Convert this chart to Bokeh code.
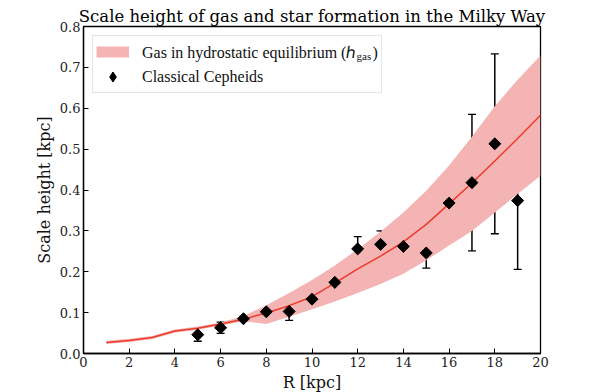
import numpy as np
from bokeh.plotting import figure
from bokeh.models import (ColumnDataSource, Whisker, TeeHead, Legend, LegendItem,
                          Label, Range1d, FixedTicker, PrintfTickFormatter)
from bokeh.embed import file_html
from bokeh.resources import INLINE

# ---- data ----
R_gas = [1, 2, 3, 4, 5, 6, 7, 8, 9, 10, 11, 12, 13, 14, 15, 16, 17, 18, 19, 20]
h_gas_mid = [0.027, 0.032, 0.039, 0.055, 0.062, 0.072, 0.084, 0.099, 0.117, 0.139,
             0.172, 0.207, 0.238, 0.273, 0.316, 0.366, 0.417, 0.471, 0.526, 0.583]
h_gas_lo = [0.023, 0.028, 0.035, 0.051, 0.058, 0.068, 0.079, 0.072, 0.090, 0.108,
            0.127, 0.148, 0.170, 0.195, 0.228, 0.264, 0.300, 0.345, 0.390, 0.435]
h_gas_hi = [0.031, 0.036, 0.043, 0.059, 0.066, 0.076, 0.092, 0.118, 0.148, 0.180,
            0.215, 0.255, 0.298, 0.345, 0.398, 0.460, 0.530, 0.605, 0.670, 0.729]

R_ceph = [5, 6, 7, 8, 9, 10, 11, 12, 13, 14, 15, 16, 17, 18, 19]
h_ceph = [0.046, 0.063, 0.085, 0.102, 0.103, 0.133, 0.174, 0.256, 0.267, 0.262,
          0.246, 0.368, 0.418, 0.513, 0.374]
h_ceph_err = [0.016, 0.014, 0.006, 0.005, 0.022, 0.018, 0.033, 0.030, 0.033, 0.029,
              0.037, 0.065, 0.167, 0.220, 0.168]

x_ticks = [0, 2, 4, 6, 8, 10, 12, 14, 16, 18, 20]
y_ticks = [0.0, 0.1, 0.2, 0.3, 0.4, 0.5, 0.6, 0.7, 0.8]

title_text = "Scale height of gas and star formation in the Milky Way"
x_label = "R [kpc]"
y_label = "Scale height [kpc]"
gas_label = "Gas in hydrostatic equilibrium (\u210e    )"
gas_sub = "gas"
ceph_label = "Classical Cepheids"

FONT = "DejaVu Serif"
LEG_FONT = "Liberation Serif"
BAND = "#f4b4b4"

gas_src = ColumnDataSource(dict(R=R_gas, mid=h_gas_mid, lo=h_gas_lo, hi=h_gas_hi))
ceph_src = ColumnDataSource(dict(
    R=R_ceph, h=h_ceph,
    upper=[v + e for v, e in zip(h_ceph, h_ceph_err)],
    lower=[v - e for v, e in zip(h_ceph, h_ceph_err)],
))
# NaN placeholder: draws nothing in the plot, only the legend swatches
proxy_src = ColumnDataSource(dict(x=[np.nan], y=[np.nan]))

p = figure(frame_width=457, frame_height=327, output_backend="svg", toolbar_location=None,
           x_range=Range1d(0, 20), y_range=Range1d(0, 0.8),
           min_border_left=83, min_border_right=64, min_border_top=26, min_border_bottom=39)
p.width = 604
p.height = 392

p.title.text = title_text
p.title.text_font = FONT
p.title.text_font_size = "16.5px"
p.title.text_font_style = "normal"
p.title.align = "center"
p.title.text_color = "black"
p.title.standoff = 2

p.xgrid.visible = False
p.ygrid.visible = False
p.outline_line_color = "black"
p.outline_line_width = 1.3

band = p.varea(x="R", y1="lo", y2="hi", source=gas_src, fill_color=BAND, fill_alpha=1.0)
p.line(x="R", y="mid", source=gas_src, line_color="#ee3a2a", line_width=1.5)

wh = Whisker(base="R", upper="upper", lower="lower", source=ceph_src,
             line_color="black", line_width=1.5,
             upper_head=TeeHead(size=8, line_color="black", line_width=1.3),
             lower_head=TeeHead(size=8, line_color="black", line_width=1.3))
p.add_layout(wh)
pts = p.scatter(x="R", y="h", source=ceph_src, marker="square", size=8.5, angle=np.pi / 4,
                fill_color="black", line_color="black")

band_proxy = p.line(x="x", y="y", source=proxy_src, line_color=BAND, line_width=11, line_cap="butt")
pt_proxy = p.scatter(x="x", y="y", source=proxy_src, marker="diamond",
                     fill_color="black", line_color="black")

for ax in (p.xaxis[0], p.yaxis[0]):
    ax.major_tick_in = 5
    ax.major_tick_out = 0
    ax.minor_tick_line_color = None
    ax.major_tick_line_color = "black"
    ax.axis_line_color = "black"
    ax.axis_line_width = 1.3
    ax.major_label_text_font = FONT
    ax.major_label_text_font_size = "13px"
    ax.major_label_text_color = "#222222"
    ax.axis_label_text_font = FONT
    ax.axis_label_text_font_size = "16px"
    ax.axis_label_text_font_style = "normal"
    ax.axis_label_text_color = "#111111"
    ax.major_label_standoff = 3
    ax.axis_label_standoff = 3

p.xaxis.ticker = FixedTicker(ticks=x_ticks)
p.yaxis.ticker = FixedTicker(ticks=y_ticks)
p.yaxis.formatter = PrintfTickFormatter(format="%.1f")
p.xaxis.axis_label = x_label
p.yaxis.axis_label = y_label

legend = Legend(items=[LegendItem(label=gas_label, renderers=[band_proxy]),
                       LegendItem(label=ceph_label, renderers=[pt_proxy])],
                label_text_font=LEG_FONT, label_text_font_style="normal")
legend.location = "top_left"
legend.margin = 9
legend.padding = 3
legend.spacing = 0
legend.glyph_width = 33
legend.glyph_height = 25
legend.label_height = 22
legend.label_standoff = 13
legend.label_text_font_size = "16px"
legend.label_text_color = "#111111"
legend.border_line_color = "#cccccc"
legend.border_line_width = 1
legend.background_fill_color = "white"
legend.background_fill_alpha = 0.0
p.add_layout(legend)

sub = Label(x=11.95, y=0.729, text=gas_sub, text_font=LEG_FONT, text_font_style="normal",
            text_font_size="11px", text_color="#111111",
            text_baseline="alphabetic", text_align="left", level="overlay")
p.add_layout(sub)

open("out.html", "w").write(file_html(p, INLINE))
